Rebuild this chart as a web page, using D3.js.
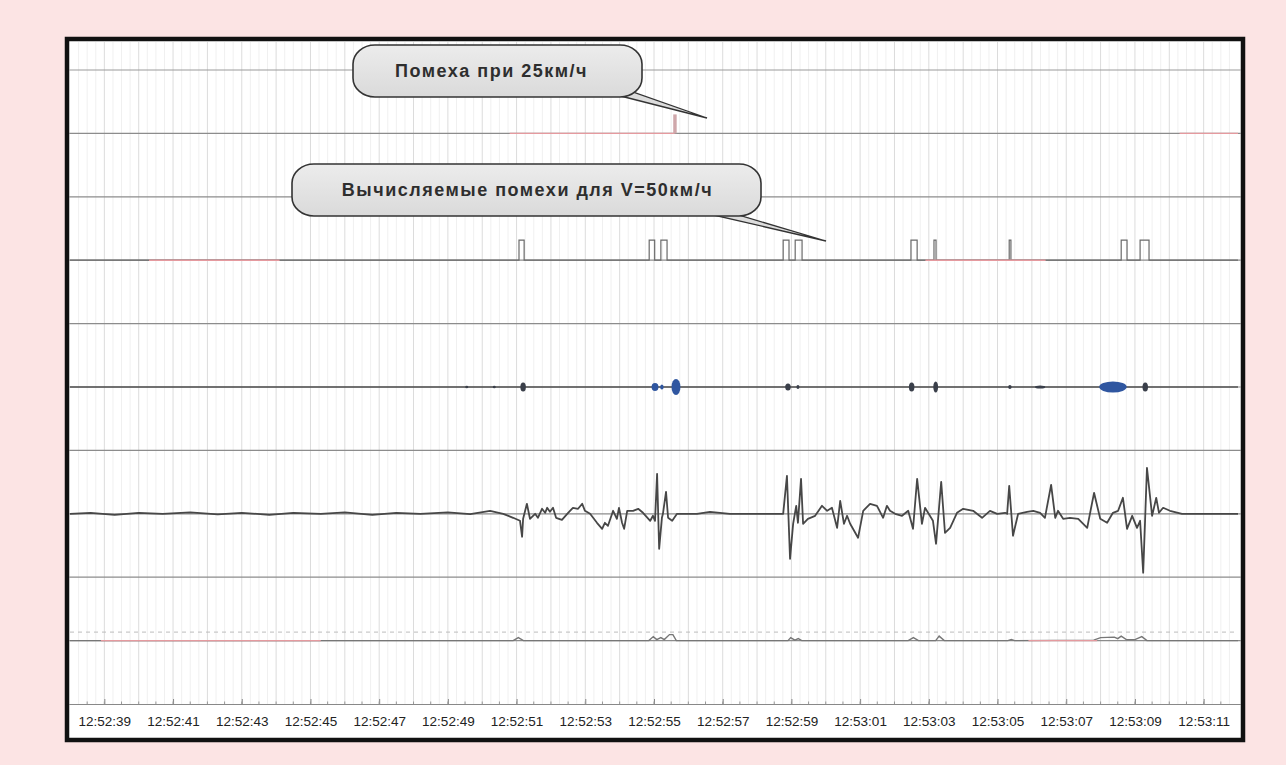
<!DOCTYPE html>
<html><head><meta charset="utf-8">
<script src="https://cdn.jsdelivr.net/npm/d3@7"></script>
<style>html,body{margin:0;padding:0;background:#fce4e4;} svg{display:block}</style>
</head><body>
<svg id="c" width="1286" height="765"></svg>
<script>
// ---------- DATA (time in seconds after 12:52:00) ----------
const timeDomain = [38, 72];
const tickSeconds = [39,41,43,45,47,49,51,53,55,57,59,61,63,65,67,69,71];
const tickLabels = ["12:52:39","12:52:41","12:52:43","12:52:45","12:52:47","12:52:49","12:52:51","12:52:53","12:52:55","12:52:57","12:52:59","12:53:01","12:53:03","12:53:05","12:53:07","12:53:09","12:53:11"];

// Track 1: interference at 25 km/h
const spike25 = [[55.56, 55.66, 1.9]];            // [start, end, height]
const track1Red = [[50.8, 55.6], [70.3, 72]];

// Track 2: computed interference pulses for V=50 km/h
const pulses50 = [[51.07,51.22],[54.86,55.02],[55.20,55.38],[58.76,58.93],[59.11,59.31],
                  [62.48,62.66],[63.15,63.21],[65.34,65.39],[68.60,68.77],[69.15,69.41]];
const pulseHeight = 2.0;
const track2Red = [[40.3, 44.1], [62.9, 66.4]];

// Track 3: raw noise bursts [time, half-width (s), amplitude, kind]
const bursts = [[49.55,0.03,0.12,"d"],[50.35,0.03,0.12,"d"],[51.19,0.08,0.45,"d"],[55.03,0.1,0.4,"b"],[55.23,0.05,0.25,"b"],
                [55.64,0.13,0.8,"b"],[58.90,0.08,0.35,"d"],[59.19,0.04,0.2,"d"],[62.50,0.08,0.45,"d"],
                [63.20,0.07,0.55,"d"],[65.36,0.05,0.2,"d"],[66.24,0.15,0.15,"d"],[68.36,0.4,0.55,"b"],[69.30,0.08,0.45,"d"]];

// Track 4: main signal [time, value]
const signal = [[38.0,0],[38.6,0.1],[39.3,-0.1],[40.0,0.1],[40.7,0],[41.5,0.15],[42.3,-0.05],[43.0,0.1],[43.8,-0.1],
 [44.5,0.1],[45.3,0],[46.0,0.15],[46.8,-0.1],[47.5,0.1],[48.2,0],[49.0,0.15],[49.65,-0.03],
 [50.23,0.3],[50.61,0],[50.90,-0.4],[51.10,-0.7],[51.16,-2.3],[51.19,-0.5],[51.30,1.0],[51.39,-0.5],[51.54,0],
 [51.62,-0.4],[51.74,0.5],[51.83,0.1],[51.89,0.6],[51.97,0.2],[52.06,0.6],[52.15,-0.4],[52.32,-0.6],[52.50,0.1],
 [52.64,0.6],[52.79,0.5],[52.91,1.0],[52.99,0.3],[53.14,0],[53.34,-0.9],[53.49,-1.5],[53.57,-0.9],[53.66,-1.2],
 [53.81,0.3],[53.92,-0.5],[53.98,0.6],[54.07,-0.9],[54.13,-1.5],[54.22,0.3],[54.39,0.3],[54.54,0.5],[54.68,0.1],
 [54.89,-0.7],[54.97,-0.2],[55.03,-0.7],[55.09,4.0],[55.15,-3.5],[55.23,-0.4],[55.26,0],[55.35,2.2],[55.41,-0.4],
 [55.53,-0.7],[55.67,0],[56.25,0],[56.63,0.2],[57.21,0],[58.38,0],[58.76,0],[58.87,3.8],[58.96,-4.5],[59.05,-1.0],
 [59.14,0.8],[59.19,-0.9],[59.28,3.5],[59.34,-1.0],[59.48,-0.5],[59.69,-0.2],[59.89,0.8],[60.04,0.3],[60.18,0.6],
 [60.33,-1.4],[60.42,1.3],[60.53,-1.0],[60.62,-0.2],[60.71,-1.0],[60.94,-2.4],[61.09,0.3],[61.29,1.0],[61.49,0.8],
 [61.67,-0.4],[61.78,0.8],[61.87,0.3],[62.02,0],[62.22,-0.2],[62.40,0.3],[62.54,-1.5],[62.66,3.5],[62.80,-1.0],
 [62.89,0.6],[63.12,-0.7],[63.21,-3.0],[63.36,3.2],[63.47,-1.9],[63.62,-1.4],[63.82,0.1],[64.00,0.5],[64.29,0.3],
 [64.55,-0.4],[64.78,0.3],[64.99,0],[65.22,0.1],[65.28,0],[65.34,2.8],[65.45,-2.2],[65.60,0],[65.86,0.2],[66.04,0.3],
 [66.24,0.1],[66.38,-0.4],[66.56,2.9],[66.68,-0.4],[66.76,0.3],[66.91,-0.5],[67.11,-0.4],[67.35,-0.5],[67.61,-1.4],
 [67.81,2.1],[67.99,-0.5],[68.19,-0.9],[68.36,0.1],[68.51,0.3],[68.65,1.6],[68.77,-1.5],[68.92,-0.2],[69.06,-1.4],
 [69.15,-0.7],[69.24,-5.9],[69.35,4.6],[69.50,-0.2],[69.62,1.6],[69.70,0.1],[69.82,0.6],[70.02,0.3],[70.37,0],
 [70.90,0],[72.0,0]];

// Track 5: envelope
const envelope = [[38,0],[50.9,0],[51.05,0.3],[51.2,0],[54.85,0],[54.98,0.4],[55.08,0.1],[55.2,0.3],[55.3,0.1],
 [55.45,0.6],[55.55,0.6],[55.65,0],[58.9,0],[58.98,0.3],[59.1,0.05],[59.2,0.2],[59.3,0],[62.4,0],[62.55,0.3],
 [62.7,0],[63.2,0],[63.3,0.45],[63.45,0],[65.3,0],[65.4,0.1],[65.5,0],[67.8,0.05],[68.0,0.3],[68.4,0.35],[68.5,0.2],
 [68.6,0.45],[68.75,0.1],[69.0,0.1],[69.2,0.4],[69.35,0],[72,0]];
const envelopeThreshold = 0.85;
const track5Red = [[38.9, 45.3], [65.9, 67.9]];

const calloutTexts = ["Помеха при 25км/ч", "Вычисляемые помехи для V=50км/ч"];

// ---------- LAYOUT ----------
const calloutLayout = [
  {box:[353,45,642,97], tail:[[597,90],[707,118],[627,90]], dx:-6},
  {box:[292,164,761,216], tail:[[683,208],[826,241],[715,208]], dx:1}
];

const svg = d3.select("#c");
const base = new Date(2000,0,1,12,52,0).getTime();
const toDate = s => new Date(base + s*1000);
const x = d3.scaleTime().domain(timeDomain.map(toDate)).range([70, 1238]);
const yGrid = d3.scaleLinear().domain([0,10]).range([70,704]);
const trackY = k => { const b = yGrid(2*k+1), h = yGrid(1)-yGrid(0);
  return d3.scaleLinear().domain([-h/10, h/10]).range([b+h, b-h]); };
const ys = [0,1,2,3,4].map(trackY);

// frame
svg.append("rect").attr("x",67).attr("y",39).attr("width",1176).attr("height",701)
  .attr("fill","#fff").attr("stroke","#111").attr("stroke-width",4.5);

// vertical grid
const g = svg.append("g");
const minor = d3.range(timeDomain[0]+0.25, timeDomain[1], 0.25);
g.selectAll("line.v").data(minor).join("line")
  .attr("x1",d=>x(toDate(d))).attr("x2",d=>x(toDate(d))).attr("y1",42).attr("y2",704)
  .attr("stroke", d=> Math.abs(d-Math.round(d))<1e-6 ? "#dcdcdc" : "#f0f0f0").attr("stroke-width",1);

// horizontal grid
g.selectAll("line.h").data(d3.range(1,10)).join("line")
  .attr("x1",69).attr("x2",1241).attr("y1",d=>yGrid(d)).attr("y2",d=>yGrid(d))
  .attr("stroke","#8c8c8c").attr("stroke-width",1.2);
g.append("line").attr("x1",69).attr("x2",1241).attr("y1",yGrid(0)).attr("y2",yGrid(0))
  .attr("stroke","#9a9a9a").attr("stroke-width",1);

const line = (yy) => d3.line().x(d=>x(toDate(d[0]))).y(d=>yy(d[1]));
function redSegs(segs, yy){
  svg.append("g").selectAll("line").data(segs).join("line")
   .attr("x1",d=>x(toDate(d[0]))).attr("x2",d=>x(toDate(d[1])))
   .attr("y1",yy(0)).attr("y2",yy(0)).attr("stroke","#e59a9f").attr("stroke-width",1.4);
}

// Track 1
redSegs(track1Red, ys[0]);
svg.append("g").selectAll("rect").data(spike25).join("rect")
  .attr("x",d=>x(toDate(d[0]))).attr("width",d=>x(toDate(d[1]))-x(toDate(d[0])))
  .attr("y",d=>ys[0](d[2])).attr("height",d=>ys[0](0)-ys[0](d[2]))
  .attr("fill","#cfa7aa");

// Track 2
const pulsePts = [[timeDomain[0],0]];
pulses50.forEach(p=>{pulsePts.push([p[0],0],[p[0],pulseHeight],[p[1],pulseHeight],[p[1],0]);});
pulsePts.push([timeDomain[1],0]);
svg.append("path").attr("d",line(ys[1])(pulsePts)).attr("fill","none").attr("stroke","#6a6a6a").attr("stroke-width",1.2);
redSegs(track2Red, ys[1]);

// Track 3
svg.append("line").attr("x1",70).attr("x2",1238).attr("y1",ys[2](0)).attr("y2",ys[2](0))
  .attr("stroke","#555").attr("stroke-width",1.4);
svg.append("g").selectAll("ellipse").data(bursts).join("ellipse")
  .attr("cx",d=>x(toDate(d[0]))).attr("cy",ys[2](0))
  .attr("rx",d=>Math.max(1.5, x(toDate(d[0]+d[1]))-x(toDate(d[0]))))
  .attr("ry",d=>ys[2](0)-ys[2](d[2]))
  .attr("fill",d=>d[3]==="b" ? "#2f56a0" : "#3a3f4a");

// Track 4
svg.append("path").attr("d",line(ys[3])(signal)).attr("fill","none")
  .attr("stroke","#474747").attr("stroke-width",1.8).attr("stroke-linejoin","round");

// Track 5
svg.append("line").attr("x1",70).attr("x2",1238)
  .attr("y1",ys[4](envelopeThreshold)).attr("y2",ys[4](envelopeThreshold))
  .attr("stroke","#bdbdbd").attr("stroke-width",1).attr("stroke-dasharray","4,4");
svg.append("path").attr("d",line(ys[4])(envelope)).attr("fill","none")
  .attr("stroke","#777").attr("stroke-width",1.4);
redSegs(track5Red, ys[4]);

// Axis
const axis = d3.axisBottom(x).tickValues(tickSeconds.map(toDate))
  .tickFormat((d,i)=>tickLabels[i]).tickSize(-5).tickPadding(12);
const ax = svg.append("g").attr("transform","translate(0,704)").call(axis);
ax.select(".domain").attr("stroke","#888").attr("d","M69,0.5H1241");
ax.selectAll(".tick line").attr("stroke","#888");
ax.selectAll("text").attr("font-family","Liberation Sans, Arial, sans-serif")
  .attr("font-size","13.5px").attr("fill","#222");
ax.append("g").selectAll("line").data(d3.range(38.5,72,0.5)).join("line")
  .attr("x1",d=>x(toDate(d))).attr("x2",d=>x(toDate(d))).attr("y1",0).attr("y2",-2.5)
  .attr("stroke","#999");

// Callouts
const defs = svg.append("defs");
const gr = defs.append("linearGradient").attr("id","cg").attr("x1",0).attr("y1",0).attr("x2",0).attr("y2",1);
gr.append("stop").attr("offset","0%").attr("stop-color","#ececec");
gr.append("stop").attr("offset","100%").attr("stop-color","#dadada");
calloutTexts.forEach((t,i)=>{
  const c = calloutLayout[i];
  const cg = svg.append("g");
  cg.append("path").attr("d","M"+c.tail.map(p=>p.join(",")).join("L")+"Z")
    .attr("fill","#dcdcdc").attr("stroke","#333").attr("stroke-width",1.3);
  const [x0,y0,x1,y1] = c.box;
  cg.append("rect").attr("x",x0).attr("y",y0).attr("width",x1-x0).attr("height",y1-y0)
    .attr("rx",22).attr("ry",19).attr("fill","url(#cg)").attr("stroke","#333").attr("stroke-width",1.6);
  cg.append("text").attr("x",(x0+x1)/2 + c.dx).attr("y",(y0+y1)/2+1).attr("text-anchor","middle")
    .attr("dominant-baseline","middle").attr("font-family","Liberation Sans, Arial, sans-serif")
    .attr("font-size","18px").attr("font-weight","bold").attr("letter-spacing","1.5px")
    .attr("fill","#2e2e2e").text(t);
});
</script>
</body></html>
